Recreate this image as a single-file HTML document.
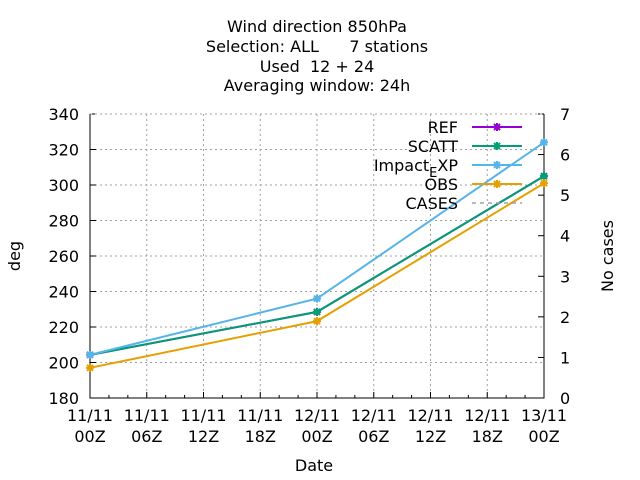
<!DOCTYPE html>
<html><head><meta charset="utf-8"><style>body{margin:0;background:#fff}svg{display:block;font-family:"DejaVu Sans","Liberation Sans",sans-serif}</style></head>
<body>
<svg id="c" width="640" height="480" font-size="16">
<g text-anchor="middle" fill="#000" style="white-space:pre">
<text x="317" y="32">Wind direction 850hPa</text>
<text x="317" y="52" xml:space="preserve">Selection: ALL      7 stations</text>
<text x="317" y="72" xml:space="preserve">Used  12 + 24</text>
<text x="317" y="91">Averaging window: 24h</text>
</g>
<g id="grid"></g>
<g id="axes"></g>
<g id="series"></g>
<text x="314" y="471" text-anchor="middle">Date</text>
<text transform="translate(20,256) rotate(-90)" text-anchor="middle">deg</text>
<text transform="translate(613,256) rotate(-90)" text-anchor="middle">No cases</text>
<g id="legend"></g>
</svg>
<script>
const xLabels=["11/11","11/11","11/11","11/11","12/11","12/11","12/11","12/11","13/11"];
const xLabels2=["00Z","06Z","12Z","18Z","00Z","06Z","12Z","18Z","00Z"];
const yTicks=[180,200,220,240,260,280,300,320,340];
const y2Ticks=[0,1,2,3,4,5,6,7];
const hours=[0,24,48];
const refVals=[204.3,228.5,305];
const scattVals=[204.3,228.5,305];
const impactVals=[204.3,236,324];
const obsVals=[197,223.3,301];
const L=90,R=544,T=114,B=398;
const X=h=>L+(R-L)*h/48, Y=v=>B-(B-T)*(v-180)/160, Y2=v=>B-(B-T)*v/7;
const NS="http://www.w3.org/2000/svg";
function mk(p,t,a){const e=document.createElementNS(NS,t);for(const k in a)e.setAttribute(k,a[k]);p.appendChild(e);return e;}
const g=document.getElementById('grid'),ax=document.getElementById('axes'),s=document.getElementById('series'),lg=document.getElementById('legend');
yTicks.forEach((v,i)=>{const y=Y(v);
 if(i>0){const l=mk(g,'line',{x1:L,x2:R,y1:y,y2:y,stroke:'#a0a0a0','stroke-dasharray':'2,3'});
 
 }
 mk(ax,'line',{x1:L,x2:L+6,y1:y,y2:y,stroke:'#000'});
 const t=mk(ax,'text',{x:L-11,y:y+6,'text-anchor':'end'});t.textContent=v;
 
 });
y2Ticks.forEach(v=>{const y=Y2(v);
 mk(ax,'line',{x1:R-6,x2:R,y1:y,y2:y,stroke:'#000'});
 const t=mk(ax,'text',{x:R+16,y:y+6});t.textContent=v;
 
 });
xLabels.forEach((lab,i)=>{const x=X(i*6);
 if(i>0&&i<8){const l=mk(g,'line',{x1:x,x2:x,y1:T,y2:B,stroke:'#a0a0a0','stroke-dasharray':'2,3'});
 
 }
 mk(ax,'line',{x1:x,x2:x,y1:B,y2:B-6,stroke:'#000'});
 if(i<8)for(let m=1;m<3;m++){const xm=X(i*6+m*2);mk(ax,'line',{x1:xm,x2:xm,y1:B,y2:B-3,stroke:'#000'});}
 const t=mk(ax,'text',{x:x,y:B+23,'text-anchor':'middle'});t.textContent=lab;
 
 
 const t2=mk(ax,'text',{x:x,y:B+44,'text-anchor':'middle'});t2.textContent=xLabels2[i];
 
 });
mk(ax,'line',{x1:L,x2:R,y1:T,y2:T,stroke:'#a0a0a0','stroke-dasharray':'2,3'});
mk(ax,'path',{d:`M${L},${T}V${B}H${R}V${T}`,fill:'none',stroke:'#000'});
const series=[["REF",refVals,"#9400d3"],["SCATT",scattVals,"#009e73"],["Impact_EXP",impactVals,"#56b4e9"],["OBS",obsVals,"#e69f00"]];
function star(p,x,y,c){mk(p,'path',{d:`M${x-4},${y}H${x+4}M${x},${y-4}V${y+4}M${x-3},${y-3}L${x+3},${y+3}M${x-3},${y+3}L${x+3},${y-3}`,stroke:c,'stroke-width':2});}
series.forEach(([n,vals,c],k)=>{
 const pl=mk(s,'polyline',{points:vals.map((v,i)=>X(hours[i])+','+Y(v)).join(' '),fill:'none',stroke:c,'stroke-width':2});
 
 
 vals.forEach((v,i)=>star(s,X(hours[i]),Y(v),c));
 const y=127+k*19;
 const t=mk(lg,'text',{x:458,y:y+6,'text-anchor':'end'});
 if(n==="Impact_EXP"){t.innerHTML='Impact<tspan dy="6" font-size="13">E</tspan><tspan dy="-6">XP</tspan>';}else t.textContent=n;
 
 
 mk(lg,'line',{x1:472,x2:522,y1:y,y2:y,stroke:c,'stroke-width':2});
 star(lg,497,y,c);});
const ct=mk(lg,'text',{x:458,y:209,'text-anchor':'end'});ct.textContent="CASES";


mk(lg,'line',{x1:472,x2:522,y1:203,y2:203,stroke:'#a0a0a0','stroke-width':1.5,'stroke-dasharray':'4,4'});
</script>
</body></html>
